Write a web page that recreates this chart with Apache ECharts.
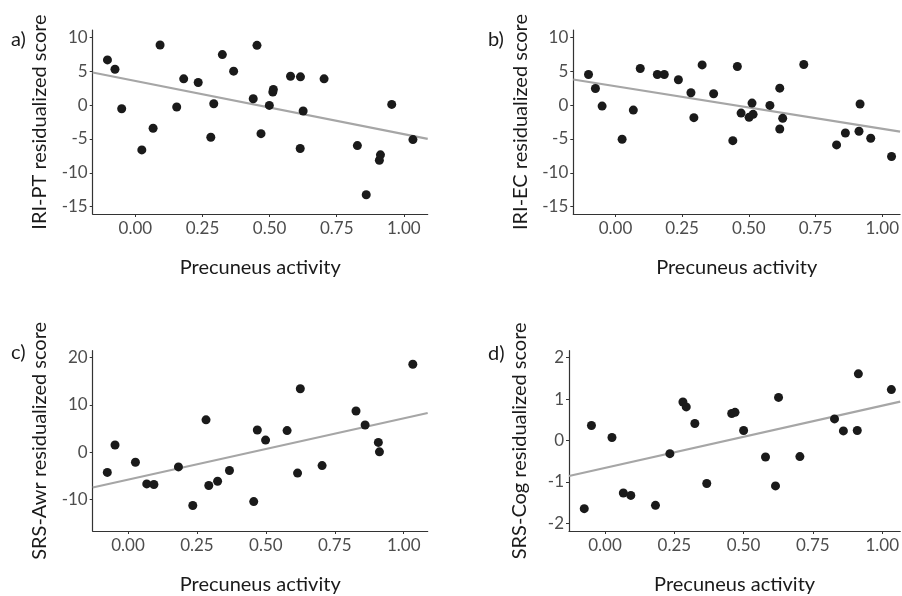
<!DOCTYPE html>
<html><head><meta charset="utf-8">
<script src="https://cdn.jsdelivr.net/npm/echarts@6/dist/echarts.min.js"></script>
<style>html,body{margin:0;padding:0;background:#fff}#c{width:902px;height:596px}</style>
</head><body><div id="c"></div>
<script>
// Panel a: IRI-PT
const aX = [-0.104,-0.076,-0.051,0.024,0.066,0.092,0.154,0.180,0.234,0.281,0.292,0.324,0.366,0.439,0.453,0.468,0.499,0.512,0.514,0.578,0.615,0.614,0.625,0.703,0.827,0.860,0.909,0.913,0.955,1.034];
const aY = [6.67,5.29,-0.54,-6.62,-3.43,8.87,-0.29,3.87,3.33,-4.75,0.20,7.45,5.0,0.93,8.82,-4.22,-0.05,1.91,2.30,4.26,4.17,-6.42,-0.88,3.87,-5.98,-13.24,-8.14,-7.35,0.10,-5.10];
const aLineX = [-0.159, 1.089];
const aLineY = [4.8, -5.0];
// Panel b: IRI-EC
const bX = [-0.101,-0.075,-0.050,0.025,0.067,0.093,0.157,0.183,0.236,0.283,0.294,0.325,0.368,0.440,0.457,0.471,0.501,0.512,0.516,0.579,0.616,0.616,0.627,0.706,0.829,0.862,0.913,0.917,0.957,1.035];
const bY = [4.51,2.45,-0.15,-5.05,-0.74,5.39,4.51,4.51,3.73,1.81,-1.86,5.93,1.67,-5.25,5.69,-1.18,-1.81,0.29,-1.37,-0.05,-3.53,2.5,-1.96,5.98,-5.88,-4.12,-3.87,0.15,-4.90,-7.60];
const bLineX = [-0.158, 1.067];
const bLineY = [3.77, -3.92];
// Panel c: SRS-Awr
const cX = [-0.075,-0.047,0.027,0.068,0.094,0.183,0.235,0.283,0.293,0.325,0.368,0.456,0.469,0.499,0.577,0.615,0.625,0.704,0.827,0.860,0.908,0.912,1.033];
const cY = [-4.28,1.52,-2.14,-6.70,-6.84,-3.11,-11.26,6.84,-7.05,-6.15,-3.87,-10.44,4.70,2.56,4.56,-4.42,13.41,-2.83,8.71,5.74,2.07,0.07,18.59];
const cLineX = [-0.128, 1.087];
const cLineY = [-7.46, 8.29];
// Panel d: SRS-Cog
const dX = [-0.075,-0.049,0.025,0.066,0.093,0.182,0.234,0.281,0.293,0.324,0.367,0.457,0.469,0.500,0.579,0.615,0.626,0.703,0.828,0.860,0.910,0.914,1.033];
const dY = [-1.65,0.36,0.07,-1.27,-1.33,-1.57,-0.32,0.93,0.81,0.41,-1.04,0.65,0.68,0.24,-0.40,-1.10,1.04,-0.39,0.52,0.23,0.24,1.61,1.23];
const dLineX = [-0.130, 1.065];
const dLineY = [-0.86, 0.94];

const xTicks = [0, 0.25, 0.5, 0.75, 1.0];
const xTickLabels = ['0.00','0.25','0.50','0.75','1.00'];
const yTicksAB = [-15,-10,-5,0,5,10];
const yTicksC = [-10,0,10,20];
const yTicksD = [-2,-1,0,1,2];
const yTitles = ['IRI-PT residualized score','IRI-EC residualized score','SRS-Awr residualized score','SRS-Cog residualized score'];
const xTitle = 'Precuneus activity';
const panelLabels = ['a)','b)','c)','d)'];

const FONT = 'Lato';
const panels = [
  {grid:{left:92.7, top:30, width:335, height:184}, xr:[-0.159,1.089], yr:[-16.08,11.08], yt:yTicksAB, X:aX, Y:aY, LX:aLineX, LY:aLineY, ng:43},
  {grid:{left:573.3, top:30, width:328.7, height:184}, xr:[-0.158,1.067], yr:[-16.08,11.08], yt:yTicksAB, X:bX, Y:bY, LX:bLineX, LY:bLineY, ng:43},
  {grid:{left:92.7, top:350.7, width:335, height:183.6}, xr:[-0.128,1.087], yr:[-16.66,21.45], yt:yTicksC, X:cX, Y:cY, LX:cLineX, LY:cLineY, ng:43},
  {grid:{left:569, top:350.7, width:333, height:183.6}, xr:[-0.130,1.065], yr:[-2.19,2.17], yt:yTicksD, X:dX, Y:dY, LX:dLineX, LY:dLineY, ng:39}
];
const labelPos = [[18,41],[495,41],[18,354],[495,355]];

const grids=[], xAxes=[], yAxes=[], series=[], graphics=[];
panels.forEach((p,i)=>{
  grids.push(Object.assign({containLabel:false}, p.grid));
  xAxes.push({type:'value', gridIndex:i, min:p.xr[0], max:p.xr[1],
    name:xTitle, nameLocation:'middle', nameGap:44,
    nameTextStyle:{fontFamily:FONT, fontSize:20, color:'#1a1a1a'},
    axisLine:{show:true, onZero:false, lineStyle:{color:'#333', width:1.2}},
    axisTick:{show:true, length:3, lineStyle:{color:'#333'}, customValues:xTicks},
    axisLabel:{fontFamily:FONT, fontSize:17, color:'#4d4d4d', margin:6, customValues:xTicks,
      formatter:(v)=>{const k=xTicks.findIndex(t=>Math.abs(t-v)<1e-9); return k>=0?xTickLabels[k]:'';}},
    splitLine:{show:false}});
  yAxes.push({type:'value', gridIndex:i, min:p.yr[0], max:p.yr[1],
    name:yTitles[i], nameLocation:'middle', nameGap:p.ng, nameRotate:90,
    nameTextStyle:{fontFamily:FONT, fontSize:20, color:'#1a1a1a'},
    axisLine:{show:true, onZero:false, lineStyle:{color:'#333', width:1.2}},
    axisTick:{show:true, length:3, lineStyle:{color:'#333'}, customValues:p.yt},
    axisLabel:{fontFamily:FONT, fontSize:17, color:'#4d4d4d', margin:5, customValues:p.yt},
    splitLine:{show:false}});
  series.push({type:'line', xAxisIndex:i, yAxisIndex:i, data:p.LX.map((x,k)=>[x,p.LY[k]]),
    showSymbol:false, symbol:'none', lineStyle:{color:'#a6a6a6', width:2.2}, silent:true, z:1, clip:true});
  series.push({type:'scatter', xAxisIndex:i, yAxisIndex:i, data:p.X.map((x,k)=>[x,p.Y[k]]),
    symbolSize:9, itemStyle:{color:'#1a1a1a', opacity:1}, z:2});
  graphics.push({type:'text', left:labelPos[i][0]-7, top:labelPos[i][1]-11,
    style:{text:panelLabels[i], fontFamily:FONT, fontSize:20, fill:'#1a1a1a'}});
});

const chart = echarts.init(document.getElementById('c'), null, {renderer:'canvas'});
chart.setOption({animation:false, backgroundColor:'#fff', grid:grids, xAxis:xAxes, yAxis:yAxes, series:series, graphic:graphics});
</script></body></html>
